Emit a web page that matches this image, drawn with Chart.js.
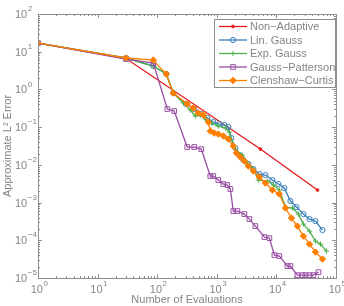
<!DOCTYPE html>
<html>
<head>
<meta charset="utf-8">
<script src="https://cdn.jsdelivr.net/npm/chart.js@4.4.1/dist/chart.umd.min.js"></script>
<style>
html, body { margin: 0; padding: 0; background: #fff; }
canvas { display: block; }
</style>
</head>
<body>
<canvas id="myChart" width="344" height="306"></canvas>
<script>
// values (evaluations vs. error)
const seriesNames = ['Non\u2212Adaptive', 'Lin. Gauss', 'Exp. Gauss', 'Gauss\u2212Patterson', 'Clenshaw\u2212Curtis'];

const nonAdaptiveN = [1, 30, 5380, 48900];
const nonAdaptiveErr = [17.0, 6.6, 0.0262, 0.00215];

const linGaussN = [1, 30, 86, 142, 186, 307, 419, 549, 692, 873, 1100, 1340, 1560, 1750, 2050, 2390, 2790, 3380, 4100, 5180, 6530, 8570, 10800, 13600, 17200, 21700, 28400, 35900, 45200, 59300];
const linGaussErr = [17.0, 6.81, 4.18, 2.56, 0.803, 0.410, 0.302, 0.223, 0.174, 0.136, 0.121, 0.114, 0.101, 0.0514, 0.0279, 0.0182, 0.0134, 0.0105, 0.00774, 0.00571, 0.00536, 0.00395, 0.00310, 0.00243, 0.00110, 0.000760, 0.000495, 0.000365, 0.000323, 0.000187];

const expGaussN = [1, 30, 86, 142, 186, 274, 359, 435, 528, 641, 809, 1060, 1390, 1620, 1890, 2300, 2690, 3260, 4100, 4980, 7060, 8910, 11200, 14200, 18600, 23400, 28400, 35900, 45200, 54800, 69200];
const expGaussErr = [17.0, 6.81, 4.18, 2.56, 0.803, 0.436, 0.284, 0.197, 0.209, 0.164, 0.128, 0.107, 0.0947, 0.0741, 0.0335, 0.0206, 0.0182, 0.0112, 0.00774, 0.00395, 0.00372, 0.00291, 0.00215, 0.000760, 0.000715, 0.000495, 0.000269, 0.000175, 0.0000952, 0.0000793, 0.0000517];

const pattersonN = [1, 30, 86, 148, 193, 319, 419, 549, 778, 873, 1060, 1290, 1500, 1690, 1890, 2210, 2900, 3520, 4440, 6290, 7630, 9250, 11200, 15300, 17200, 22500, 27400, 30700, 35900, 41900, 50800];
const pattersonErr = [17.0, 6.4, 5.01, 0.302, 0.267, 0.0297, 0.0297, 0.0262, 0.00505, 0.00505, 0.00395, 0.00310, 0.00291, 0.00228, 0.000596, 0.000596, 0.000495, 0.000365, 0.000238, 0.000122, 0.000114, 0.0000405, 0.0000381, 0.0000207, 0.0000207, 0.0000119, 0.0000119, 0.0000119, 0.0000119, 0.0000119, 0.0000143];

const clenshawN = [1, 30, 86, 142, 186, 319, 403, 489, 593, 720, 778, 908, 1060, 1290, 1560, 1890, 2130, 2480, 2900, 3380, 4100, 5180, 6530, 8570, 11200, 14200, 17900, 22500, 28400, 35900, 45200, 59300];
const clenshawErr = [17.0, 6.81, 6.02, 2.56, 0.803, 0.410, 0.321, 0.237, 0.209, 0.136, 0.0788, 0.0698, 0.0656, 0.0581, 0.0483, 0.0315, 0.0206, 0.0161, 0.0126, 0.00929, 0.00685, 0.00475, 0.00329, 0.00215, 0.00168, 0.000715, 0.000388, 0.000238, 0.000129, 0.0000793, 0.0000487, 0.0000317];

// tick labels are powers of ten
const xTickExps = [0, 1, 2, 3, 4, 5];
const yTickExps = [-5, -4, -3, -2, -1, 0, 1, 2];

const seriesColors = ['#e41a1c', '#377eb8', '#4daf4a', '#984ea3', '#ff7f00'];
const axisGray = '#8e8e8e';
const textGray = '#858585';
const FONT = '"Liberation Sans", Arial, Helvetica, sans-serif';

function pairs(xs, ys) {
    return xs.map((x, i) => ({ x: x, y: ys[i] }));
}

const markerStyles = [
    { pointStyle: 'circle', radius: 1.4, fill: true },
    { pointStyle: 'circle', radius: 2.6, fill: false },
    { pointStyle: 'cross', radius: 2.6, fill: false },
    { pointStyle: 'rect', radius: 3.3, fill: false },
    { pointStyle: 'rectRot', radius: 3.2, fill: true }
];

const allN = [nonAdaptiveN, linGaussN, expGaussN, pattersonN, clenshawN];
const allErr = [nonAdaptiveErr, linGaussErr, expGaussErr, pattersonErr, clenshawErr];

const datasets = seriesNames.map((name, i) => ({
    label: name,
    data: pairs(allN[i], allErr[i]),
    borderColor: seriesColors[i],
    backgroundColor: seriesColors[i],
    borderWidth: 1.3,
    pointStyle: markerStyles[i].pointStyle,
    pointRadius: markerStyles[i].radius,
    pointBorderWidth: 1,
    pointBorderColor: seriesColors[i],
    pointBackgroundColor: markerStyles[i].fill ? seriesColors[i] : 'rgba(0,0,0,0)',
    tension: 0,
    order: seriesNames.length - i   // later series on top, like the original
}));

function drawPower(ctx, exp, x, y, centered) {
    ctx.font = '11px ' + FONT;
    const w10 = ctx.measureText('10').width;
    const expText = exp < 0 ? '\u2212' + (-exp) : String(exp);
    ctx.font = '8px ' + FONT;
    const we = ctx.measureText(expText).width;
    const x0 = centered ? x - (w10 + we) / 2 : x;
    ctx.textAlign = 'left';
    ctx.textBaseline = 'middle';
    ctx.font = '11px ' + FONT;
    ctx.fillText('10', x0, y);
    ctx.font = '8px ' + FONT;
    ctx.fillText(expText, x0 + w10 + 0.5, y - 6);
}

const axesPlugin = {
    id: 'matlabAxes',
    afterDatasetsDraw(chart) {
        const ctx = chart.ctx;
        const a = chart.chartArea;
        const xs = chart.scales.x, ys = chart.scales.y;
        ctx.save();
        ctx.strokeStyle = axisGray;
        ctx.lineWidth = 1;
        ctx.strokeRect(Math.round(a.left) + 0.5, Math.round(a.top) + 0.5,
            Math.round(a.right - a.left), Math.round(a.bottom - a.top));

        ctx.beginPath();
        // inward ticks on all four sides, majors at decades
        for (let k = xTickExps[0]; k <= xTickExps[xTickExps.length - 1]; k++) {
            for (let m = 1; m <= 9; m++) {
                const v = m * Math.pow(10, k);
                if (v > Math.pow(10, xTickExps[xTickExps.length - 1])) break;
                const px = Math.round(xs.getPixelForValue(v)) + 0.5;
                const len = m === 1 ? 4 : 2;
                ctx.moveTo(px, a.bottom); ctx.lineTo(px, a.bottom - len);
                ctx.moveTo(px, a.top); ctx.lineTo(px, a.top + len);
            }
        }
        for (let k = yTickExps[0]; k <= yTickExps[yTickExps.length - 1]; k++) {
            for (let m = 1; m <= 9; m++) {
                const v = m * Math.pow(10, k);
                if (v > Math.pow(10, yTickExps[yTickExps.length - 1])) break;
                const py = Math.round(ys.getPixelForValue(v)) + 0.5;
                const len = m === 1 ? 4 : 2;
                ctx.moveTo(a.left, py); ctx.lineTo(a.left + len, py);
                ctx.moveTo(a.right, py); ctx.lineTo(a.right - len, py);
            }
        }
        ctx.stroke();

        ctx.fillStyle = textGray;
        xTickExps.forEach(k => {
            drawPower(ctx, k, xs.getPixelForValue(Math.pow(10, k)) + 1, a.bottom + 12, true);
        });
        yTickExps.forEach(k => {
            drawPower(ctx, k, 15, ys.getPixelForValue(Math.pow(10, k)) + 1, false);
        });

        // axis titles
        ctx.font = '11px ' + FONT;
        ctx.textAlign = 'center';
        ctx.textBaseline = 'middle';
        ctx.fillText('Number of Evaluations', 187, 300);
        ctx.save();
        ctx.translate(8, 146);
        ctx.rotate(-Math.PI / 2);
        ctx.fillText('Approximate L\u00b2 Error', 0, 0);
        ctx.restore();
        ctx.restore();
    },
    afterDraw(chart) {
        // boxed legend in the upper right corner of the plot
        const ctx = chart.ctx;
        const a = chart.chartArea;
        const bx = 214, by = 19, bw = a.right - 1 - bx, bh = 68;
        ctx.save();
        ctx.fillStyle = '#fff';
        ctx.fillRect(bx, by, bw, bh);
        ctx.strokeStyle = axisGray;
        ctx.lineWidth = 1;
        ctx.strokeRect(bx + 0.5, by + 0.5, bw, bh);
        seriesNames.forEach((name, i) => {
            const y = by + 7.5 + i * 13.5;
            ctx.strokeStyle = seriesColors[i];
            ctx.lineWidth = 1.3;
            ctx.beginPath();
            ctx.moveTo(219, y); ctx.lineTo(247, y);
            ctx.stroke();
            ctx.fillStyle = markerStyles[i].fill ? seriesColors[i] : 'rgba(0,0,0,0)';
            ctx.lineWidth = 1;
            if (Chart.helpers && Chart.helpers.drawPoint) {
                Chart.helpers.drawPoint(ctx, {
                    pointStyle: markerStyles[i].pointStyle,
                    radius: markerStyles[i].radius,
                    rotation: 0,
                    borderWidth: 1
                }, 233, y);
            }
            ctx.fillStyle = textGray;
            ctx.font = '11px ' + FONT;
            ctx.textAlign = 'left';
            ctx.textBaseline = 'middle';
            ctx.fillText(name, 250, y + 0.5);
        });
        ctx.restore();
    }
};

const ctx = document.getElementById('myChart').getContext('2d');
const chart = new Chart(ctx, {
    type: 'line',
    data: { datasets: datasets },
    options: {
        responsive: false,
        animation: false,
        layout: { padding: { left: 38, top: 14, right: 8, bottom: 28 } },
        scales: {
            x: { type: 'logarithmic', min: 1, max: 1e5, display: false },
            y: { type: 'logarithmic', min: 1e-5, max: 1e2, display: false }
        },
        plugins: {
            legend: { display: false },
            tooltip: { enabled: false }
        }
    },
    plugins: [axesPlugin]
});
</script>
</body>
</html>
